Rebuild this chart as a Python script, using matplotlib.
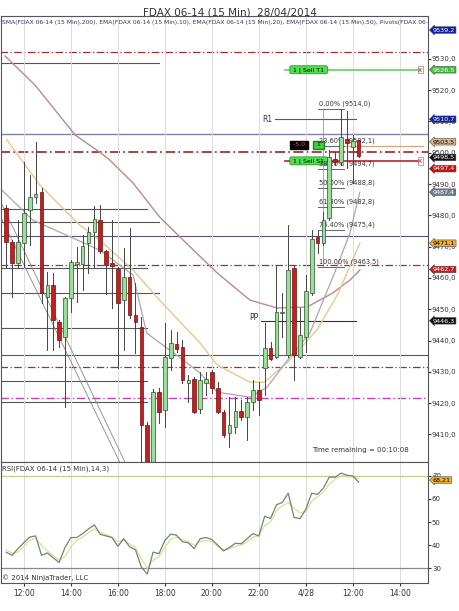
import matplotlib
matplotlib.use("Agg")
import matplotlib.pyplot as plt
import numpy as np

# ---- data ----
opens  = [9482.3,9471.5,9464.8,9471.1,9481.7,9485.8,9487.4,9453.9,9457.7,9445.9,9441.1,9453.6,9464.6,9464.4,9471.1,9474.7,9478.5,9468.6,9464.8,9462.8,9452.9,9460.3,9448.1,9444.3,9413.0,9399.0,9423.5,9417.8,9434.4,9438.9,9437.9,9426.4,9427.7,9418.1,9426.4,9429.9,9424.8,9417.2,9410.4,9412.4,9417.5,9415.6,9420.3,9424.2,9431.2,9437.6,9434.7,9448.8,9435.4,9463.2,9434.7,9441.1,9455.2,9473.1,9471.1,9479.1,9498.0,9497.0,9504.4,9501.8,9504.1]
highs  = [9483.3,9472.0,9478.5,9497.0,9492.9,9503.4,9488.7,9461.9,9461.6,9446.5,9453.9,9465.7,9469.9,9473.7,9476.3,9483.0,9483.3,9468.9,9478.5,9463.5,9469.6,9475.9,9458.4,9447.5,9414.0,9424.5,9424.8,9445.6,9443.4,9442.7,9440.2,9429.0,9428.3,9429.9,9429.9,9430.6,9426.7,9417.8,9421.9,9421.9,9421.0,9421.9,9427.4,9426.7,9445.6,9439.5,9464.1,9455.2,9476.9,9464.1,9450.4,9460.9,9475.3,9475.3,9481.0,9500.9,9500.2,9514.0,9513.3,9505.7,9504.1]
lows   = [9463.5,9453.9,9463.2,9463.5,9470.5,9483.9,9452.0,9437.0,9437.0,9437.9,9418.8,9449.1,9452.3,9456.1,9461.6,9463.2,9468.0,9454.9,9450.4,9431.2,9437.0,9447.2,9436.0,9400.0,9396.0,9396.0,9413.6,9412.4,9430.6,9436.3,9426.4,9420.3,9416.8,9416.8,9422.6,9423.2,9416.8,9409.2,9406.0,9410.4,9414.6,9408.2,9417.8,9416.2,9422.6,9433.8,9434.4,9441.1,9434.7,9427.4,9434.4,9436.3,9454.5,9468.0,9470.5,9478.5,9496.1,9496.1,9495.1,9490.3,9498.6]
closes = [9471.5,9464.8,9471.5,9480.7,9485.8,9486.8,9455.2,9457.7,9446.5,9440.2,9453.6,9465.1,9465.0,9470.2,9474.7,9478.8,9468.6,9464.1,9463.8,9452.0,9460.3,9448.1,9445.9,9413.0,9399.0,9423.5,9417.2,9434.7,9439.2,9437.3,9427.4,9427.4,9417.2,9427.4,9427.7,9424.8,9417.2,9409.8,9413.0,9417.5,9415.6,9420.3,9424.2,9421.0,9437.6,9434.1,9449.1,9449.1,9462.5,9435.4,9441.8,9455.8,9472.4,9471.1,9478.5,9498.6,9497.0,9505.0,9503.1,9503.7,9498.9]
first_bar = -3

rsi   = [36.9,35.6,38.5,41.1,43.5,44,35.6,36.6,34.5,32.5,39,43.3,43.3,45,47,48.8,44.7,44,43.3,39.5,42.8,39.3,38,30.5,27.5,37,36.3,42,44.8,44.3,41.5,41,38.5,42.8,43.3,42.5,40,37.5,39,40.8,40.6,42.8,45,44,52.5,51.5,57.5,58.5,62.5,52,51.5,55.5,62.5,62,64.7,69.5,69.4,71.2,70.3,70,67.3]
rsi_avg = [38,36.5,37,39.5,42,43,40,37.5,35.5,33.5,35,39.5,42,43.5,45.5,47,45.5,44.5,43.5,41.5,42,40.5,39,34,30,33.5,35,39,42.5,43.5,42.5,41.5,40,41.5,42,41.5,39.5,38,38.5,39.5,40,41.5,43.5,44,48.5,50,55,57,58.5,56,54,54.5,59,61,63,66.5,68.5,70,70,69.5,69]

sma200_x = [-3.2,1.9,8.7,12.9,14.6,18.6,23.1,27.1,32.9,38.5,43.1,48.2,52.6,55.5,57.2]
sma200_y = [9530.9,9521.6,9505.7,9500.2,9497.7,9490.3,9479.5,9472.1,9461.6,9452.9,9450.4,9450.7,9455.2,9459.3,9462.5]
ema20_x = [-2.9,2.7,9.5,12.9,18.6,23.1,30,32.9,38.5,41,45.3,49.9,53.5,57.2]
ema20_y = [9504.1,9489.7,9476.9,9472.1,9462.5,9452.9,9439.2,9432.2,9426.7,9426.7,9433.8,9443.4,9455.0,9471.1]
ema10_x = [-4.1,1.5,12.9,18.6,20.9,27.1,30,32.9,38.5,41.4,45.3,48.7,53.3,55.5,57.2]
ema10_y = [9488.7,9478.5,9468.9,9460.9,9442.4,9433.8,9429.6,9423.5,9421.9,9425.1,9434.7,9442.4,9463.5,9474.3,9487.4]

tick_pos = [0,8,16,24,32,40,48,56,64]
tick_lab = ["12:00","14:00","16:00","18:00","20:00","22:00","4/28","12:00","14:00"]

fib_lab = ["0.00% (9514,0)","23.60% (9502,1)","38.20% (9494,7)","50.00% (9488,8)","61.80% (9482,8)","76.40% (9475,4)","100.00% (9463,5)"]
fib_val = [9514.0,9502.1,9494.7,9488.8,9482.8,9475.4,9463.5]

levels = [
    (9532.2, -4, 69, "#a03030", (0,(6,2,1,2)), 0.9),
    (9528.7, -4, 23, "#555555", "-", 0.8),
    (9506.0, -4, 69, "#8080a0", "-", 1.0),
    (9500.2, -4, 69, "#a02020", (0,(6,2,1,2)), 1.2),
    (9482.0, -4, 21, "#555555", "-", 0.8),
    (9477.9, -4, 23, "#555555", "-", 0.8),
    (9473.4, -4, 69, "#555577", "-", 0.8),
    (9464.2, -4, 69, "#a03030", (0,(6,2,1,2)), 0.9),
    (9463.1, -4, 21, "#555555", "-", 0.8),
    (9455.2, -4, 23, "#555555", "-", 0.8),
    (9444.0, -4, 21, "#555555", "-", 0.8),
    (9435.4, -4, 69, "#555577", "-", 0.8),
    (9431.5, -4, 69, "#a03030", (0,(6,2,1,2)), 0.9),
    (9427.0, -4, 21, "#555555", "-", 0.8),
    (9421.6, -4, 69, "#c040c0", (0,(6,2,1,2)), 1.0),
    (9420.3, -4, 21, "#555555", "-", 0.8),
]

fig = plt.figure(figsize=(4.6, 6.11), dpi=100)
fig.patch.set_facecolor("white")
ax = fig.add_axes([0.002, 0.2439, 0.928, 0.73])
ax2 = fig.add_axes([0.002, 0.0458, 0.928, 0.198], sharex=ax)
ax.set_xlim(-3.91, 68.77)
ax.set_ylim(9401.2, 9543.7)
for a in (ax, ax2):
    a.set_xticks(tick_pos)
    a.grid(axis="x", color="#dcdcdc", lw=0.7)
    a.yaxis.tick_right()
    a.tick_params(labelsize=5, length=2, pad=1, colors="#333333")
    for s in a.spines.values():
        s.set_color("#555555"); s.set_linewidth(0.8)
ax.tick_params(axis="x", labelbottom=False, length=0)
ax2.tick_params(axis="x", labelsize=5.5, pad=2)
ax2.set_xticklabels(tick_lab)
ax.set_yticks(np.arange(9410, 9531, 10))
ax.set_yticklabels([f"{v:.1f}".replace(".", ",") for v in np.arange(9410, 9531, 10)])

fig.text(0.5, 0.988, "FDAX 06-14 (15 Min)  28/04/2014", ha="center", va="top", fontsize=7.5, color="#333333")
ax.text(0.003, 0.99, "SMA(FDAX 06-14 (15 Min),200), EMA(FDAX 06-14 (15 Min),10), EMA(FDAX 06-14 (15 Min),20), EMA(FDAX 06-14 (15 Min),50), Pivots(FDAX 06-14",
        transform=ax.transAxes, fontsize=4.3, va="top", color="#333366", clip_on=True)

for (p, x0, x1, c, ls, lw) in levels:
    ax.plot([x0, x1], [p, p], color=c, ls=ls, lw=lw, zorder=1)

ax.plot([42.8, 56.5], [9510.7, 9510.7], color="#555577", lw=0.8)
ax.text(42.3, 9510.7, "R1", fontsize=5.5, color="#333366", ha="right", va="center")
ax.plot([40.3, 56.5], [9446.3, 9446.3], color="#333333", lw=0.8)
ax.text(40.0, 9447.5, "PP", fontsize=5.5, color="#333333", ha="right", va="center")
ax.plot([44.5, 67.5], [9526.5, 9526.5], color="#60d060", lw=1.2)
ax.text(45.5, 9526.5, " 1 | Sell T1 ", fontsize=4.5, va="center", bbox=dict(boxstyle="round,pad=0.2", fc="#50e050", ec="#208020", lw=0.5))
ax.plot([44.5, 67.5], [9497.4, 9497.4], color="#c02020", lw=1.2)
ax.text(45.5, 9497.4, " 1 | Sell S1 ", fontsize=4.5, va="center", bbox=dict(boxstyle="round,pad=0.2", fc="#50e050", ec="#208020", lw=0.5))
ax.text(45.5, 9502.5, " -5.0 ", fontsize=4.5, va="center", color="#ff5050", bbox=dict(boxstyle="square,pad=0.2", fc="black", ec="black"))
ax.text(49.5, 9502.5, " 1 ", fontsize=4.5, va="center", bbox=dict(boxstyle="square,pad=0.2", fc="#40d040", ec="#208020"))
ax.plot([50, 68], [9502.1, 9502.1], color="#c8a880", lw=0.9)
for v in (9526.5, 9497.4):
    ax.text(67.5, v, "x", fontsize=5, color="red", ha="center", va="center",
            bbox=dict(boxstyle="square,pad=0.1", fc="white", ec="#888888", lw=0.5))

for lab, v in zip(fib_lab, fib_val):
    ax.plot([50, 54.5], [v, v], color="#666666", lw=0.7)
    ax.text(50.2, v + 0.6, lab, fontsize=4.8, color="#333333", va="bottom")
ax.plot([51, 51], [9463.5, 9514], color="#888888", lw=0.5)

ax.plot([-4.1, 17.2], [9484.9, 9401.2], color="#888888", lw=0.6)
ax.plot([-4.1, 16.3], [9480.1, 9401.2], color="#888888", lw=0.6)

ax.plot(sma200_x, sma200_y, color="#c08888", lw=1.0, zorder=2)
ax.plot(ema20_x, ema20_y, color="#e8c890", lw=1.0, zorder=2)
ax.plot(ema10_x, ema10_y, color="#a8a8a8", lw=0.9, zorder=2)

idx = np.arange(first_bar, first_bar + len(opens))
for i, o, h, l, c in zip(idx, opens, highs, lows, closes):
    up = c >= o
    ax.plot([i, i], [l, h], color="#444444", lw=0.7, zorder=3)
    lo, hi = min(o, c), max(o, c)
    ax.bar(i, max(hi - lo, 0.4), bottom=lo, width=0.62, color="#98e098" if up else "#c41e1e",
           edgecolor="#305030" if up else "#701010", lw=0.5, zorder=4)

ax.text(0.955, 0.02, "Time remaining = 00:10:08", transform=ax.transAxes, fontsize=5, ha="right", va="bottom", color="#333333")

markers = [(9539.2, "9539,2", "#1020a0", "white"), (9526.5, "9526,5", "#40c040", "white"),
           (9510.7, "9510,7", "#1020a0", "white"), (9503.5, "9503,5", "#d8b890", "black"),
           (9498.5, "9498,5", "#111111", "white"), (9494.9, "9497,4", "#c01010", "white"),
           (9487.4, "9487,4", "#708090", "white"), (9471.1, "9471,1", "#f0b030", "black"),
           (9462.7, "9462,7", "#c02020", "white"), (9446.3, "9446,3", "#111111", "white")]
for v, t, fc, tc in markers:
    ax.text(1.012, v, t, transform=ax.get_yaxis_transform(), fontsize=4.6, color=tc, va="center", zorder=10,
            bbox=dict(boxstyle="larrow,pad=0.12", fc=fc, ec="#444444", lw=0.4), clip_on=False)

ax2.set_ylim(23.6, 76)
ax2.set_yticks([30, 40, 50, 60, 70])
ax2.axhline(70, color="#c8c890", lw=0.9)
ax2.axhline(30, color="#9080a0", lw=0.9)
ridx = np.arange(first_bar, first_bar + len(rsi))
ax2.plot(ridx, rsi_avg[:len(rsi)], color="#e8d8a0", lw=0.9)
ax2.plot(ridx, rsi, color="#6a8a6a", lw=0.9)
ax2.text(0.003, 0.97, "RSI(FDAX 06-14 (15 Min),14,3)", transform=ax2.transAxes, fontsize=5, va="top", color="#333333")
ax2.text(0.003, 0.02, "© 2014 NinjaTrader, LLC", transform=ax2.transAxes, fontsize=5, va="bottom", color="#333333")
ax2.text(1.012, 68.2, "68,21", transform=ax2.get_yaxis_transform(), fontsize=4.6, va="center", zorder=10,
         bbox=dict(boxstyle="larrow,pad=0.12", fc="#f0b030", ec="#444444", lw=0.4), clip_on=False)

fig.savefig("out.png", dpi=100, facecolor="white")
